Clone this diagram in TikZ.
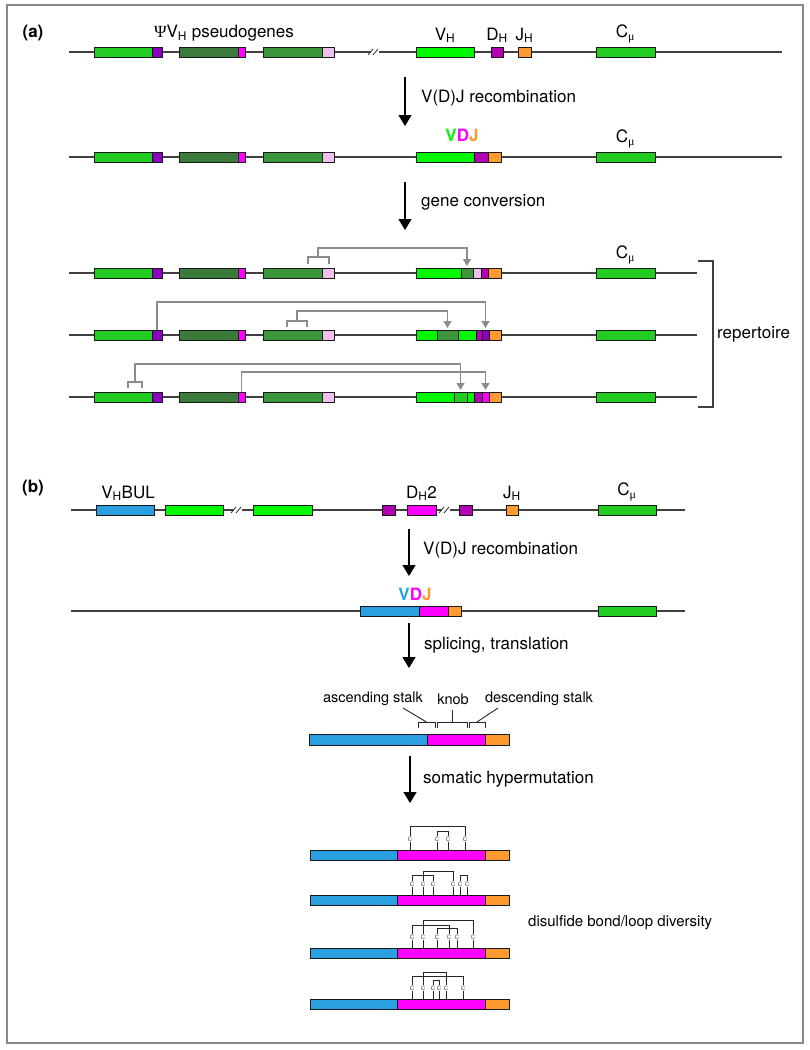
\documentclass[tikz,border=0pt]{standalone}
\usepackage{fontspec}
\setmainfont{TeX Gyre Heros}
\newfontfamily\symfont{Liberation Serif}
\usetikzlibrary{positioning,arrows.meta}
\definecolor{vlime}{HTML}{00F800}
\definecolor{psgreen}{HTML}{22CC22}
\definecolor{psdark}{HTML}{3A7A3A}
\definecolor{psmid}{HTML}{3C963C}
\definecolor{psviolet}{HTML}{8A00BE}
\definecolor{dpurple}{HTML}{B400B4}
\definecolor{dmagenta}{HTML}{FF00FF}
\definecolor{pspink}{HTML}{F0C0EC}
\definecolor{jorange}{HTML}{FF9A30}
\definecolor{vblue}{HTML}{2AA0E0}
\definecolor{dnagray}{HTML}{404040}
\definecolor{convgray}{HTML}{8C8C8C}
\definecolor{framegray}{HTML}{8A8A8A}

\begin{document}
\begin{tikzpicture}[x=1pt,y=-1pt,
	gene/.style={draw=black!90,line width=0.9pt,inner sep=0pt,outer sep=0pt,minimum height=10pt,anchor=west},
	vbox/.style={gene,fill=vlime},
	gbox/.style={gene,fill=psgreen},
	dbox/.style={gene,fill=psdark},
	mbox/.style={gene,fill=psmid},
	tbox/.style={gene,fill=psviolet},
	dhbox/.style={gene,fill=dpurple},
	mgbox/.style={gene,fill=dmagenta},
	pkbox/.style={gene,fill=pspink},
	jbox/.style={gene,fill=jorange},
	bbox/.style={gene,fill=vblue},
	dna/.style={draw=dnagray,line width=1.3pt},
	brk/.style={draw=dnagray,line width=0.9pt},
	lbl/.style={inner sep=0pt,font=\fontsize{17}{20}\selectfont},
	small/.style={inner sep=0pt,font=\fontsize{14.5}{17}\selectfont},
	stage/.style={line width=1.3pt,-{Triangle[width=13pt,length=11pt]}},
	conv/.style={draw=convgray,line width=1.4pt},
	convarr/.style={conv,-{Triangle[width=8pt,length=7pt]},shorten >=2pt},
	cys/.style={inner sep=0.3pt,font=\fontsize{6}{6}\selectfont,text=black!75},
	ss/.style={line width=0.9pt,draw=black!85}]

		\useasboundingbox (0,0) rectangle (809,1050);
		\draw[framegray,line width=1.6pt] (7,5) rectangle (803,1043);

		\node[lbl] (la) at (33,33) {\bfseries (a)};

		\draw[dna] (69,52) -- (782,52);
		\fill[white] (371,47) rectangle (379,57);
		\draw[brk] (368,55) -- (373,49) (373,55) -- (378,49);
		\node[gbox,minimum width=58pt] 					(a11) at (94,52) {};
		\node[tbox,minimum width=10pt,right=0pt of a11] 	(a12) {};
		\node[dbox,minimum width=59pt] 					(a13) at (179,52) {};
		\node[mgbox,minimum width=7pt,right=0pt of a13] 	(a14) {};
		\node[mbox,minimum width=59pt] 					(a15) at (263,52) {};
		\node[pkbox,minimum width=12pt,right=0pt of a15] 	(a16) {};
		\node[vbox,minimum width=58pt] 					(a17) at (416,52) {};
		\node[dhbox,minimum width=12pt] 					(a18) at (491,52) {};
		\node[jbox,minimum width=13pt] 					(a19) at (518,52) {};
		\node[gbox,minimum width=59pt] 					(a1c) at (596,52) {};

		\node[lbl] (psl) at (224,33) {{\symfont Ψ}V\textsubscript{H} pseudogenes};
		\node[lbl,above=4pt of a17] (l17) {V\textsubscript{H}};
		\node[lbl,above=4pt of a18] (l18) {D\textsubscript{H}};
		\node[lbl,above=4pt of a19] (l19) {J\textsubscript{H}};
		\node[lbl,above=4pt of a1c] (l1c) {C\textsubscript{\symfont μ}};

		\coordinate (s1a) at (405,77);
		\coordinate (s1b) at (405,126);
		\draw[stage] (s1a) -- (s1b);
		\node[lbl,anchor=west] (t1) at (421,98) {V(D)J recombination};

		\draw[dna] (69,157) -- (782,157);
		\node[gbox,minimum width=58pt] 					(a21) at (94,157) {};
		\node[tbox,minimum width=10pt,right=0pt of a21] 	(a22) {};
		\node[dbox,minimum width=59pt] 					(a23) at (179,157) {};
		\node[mgbox,minimum width=7pt,right=0pt of a23] 	(a24) {};
		\node[mbox,minimum width=59pt] 					(a25) at (263,157) {};
		\node[pkbox,minimum width=12pt,right=0pt of a25] 	(a26) {};
		\node[vbox,minimum width=58pt] 					(a27) at (416,157) {};
		\node[dhbox,minimum width=14pt,right=0pt of a27] 	(a28) {};
		\node[jbox,minimum width=13pt,right=0pt of a28] 	(a29) {};
		\node[gbox,minimum width=59pt] 					(a2c) at (596,157) {};

		\node[lbl,font=\fontsize{17}{20}\selectfont\bfseries] (vdja) at (462,135) {\textcolor{vlime}{V}\textcolor{dmagenta}{D}\textcolor{jorange}{J}};
		\node[lbl,above=4pt of a2c] (l2c) {C\textsubscript{\symfont μ}};

		\coordinate (s2a) at (405,182);
		\coordinate (s2b) at (405,230);
		\draw[stage] (s2a) -- (s2b);
		\node[lbl,anchor=west] (t2) at (421,202) {gene conversion};

		\draw[dna] (69,273) -- (697,273);
		\node[gbox,minimum width=58pt] 					(a31) at (94,273) {};
		\node[tbox,minimum width=10pt,right=0pt of a31] 	(a32) {};
		\node[dbox,minimum width=59pt] 					(a33) at (179,273) {};
		\node[mgbox,minimum width=7pt,right=0pt of a33] 	(a34) {};
		\node[mbox,minimum width=59pt] 					(a35) at (263,273) {};
		\node[pkbox,minimum width=12pt,right=0pt of a35] 	(a36) {};
		\node[vbox,minimum width=45pt] 					(a37) at (416,273) {};
		\node[mbox,minimum width=12pt,right=0pt of a37] 	(a3x) {};
		\node[pkbox,minimum width=8pt,right=0pt of a3x] 	(a3y) {};
		\node[dhbox,minimum width=7pt,right=0pt of a3y] 	(a38) {};
		\node[jbox,minimum width=13pt,right=0pt of a38] 	(a39) {};
		\node[gbox,minimum width=59pt] 					(a3c) at (596,273) {};
		\node[lbl,above=4pt of a3c] (l3c) {C\textsubscript{\symfont μ}};

		\coordinate (s3l) at (308,264);
		\coordinate (s3) at (318,257);
		\coordinate (s3r) at (329,264);
		\draw[conv] (s3l) |- (s3) -| (s3r);
		\draw[convarr] (s3) -- ++(0,-9) -| (a3x.north);

		\draw[dna] (69,335) -- (697,335);
		\node[gbox,minimum width=58pt] 					(a41) at (94,335) {};
		\node[tbox,minimum width=10pt,right=0pt of a41] 	(a42) {};
		\node[dbox,minimum width=59pt] 					(a43) at (179,335) {};
		\node[mgbox,minimum width=7pt,right=0pt of a43] 	(a44) {};
		\node[mbox,minimum width=59pt] 					(a45) at (263,335) {};
		\node[pkbox,minimum width=12pt,right=0pt of a45] 	(a46) {};
		\node[vbox,minimum width=21pt] 					(a47) at (416,335) {};
		\node[mbox,minimum width=21pt,right=0pt of a47] 	(a4x) {};
		\node[vbox,minimum width=18pt,right=0pt of a4x] 	(a4z) {};
		\node[dhbox,minimum width=6pt,right=0pt of a4z] 	(a48) {};
		\node[tbox,minimum width=7pt,right=0pt of a48] 	(a4y) {};
		\node[jbox,minimum width=12pt,right=0pt of a4y] 	(a49) {};
		\node[gbox,minimum width=59pt] 					(a4c) at (596,335) {};

		\draw[convarr] (a42.north) -- ++(0,-28) -| (a4y.north);
		\coordinate (s4l) at (287,327);
		\coordinate (s4) at (297,321);
		\coordinate (s4r) at (307,327);
		\draw[conv] (s4l) |- (s4) -| (s4r);
		\draw[convarr] (s4) -- ++(0,-10) -| (a4x.north);

		\draw[dna] (69,397) -- (697,397);
		\node[gbox,minimum width=58pt] 					(a51) at (94,397) {};
		\node[tbox,minimum width=10pt,right=0pt of a51] 	(a52) {};
		\node[dbox,minimum width=59pt] 					(a53) at (179,397) {};
		\node[mgbox,minimum width=7pt,right=0pt of a53] 	(a54) {};
		\node[mbox,minimum width=59pt] 					(a55) at (263,397) {};
		\node[pkbox,minimum width=12pt,right=0pt of a55] 	(a56) {};
		\node[vbox,minimum width=38pt] 					(a57) at (416,397) {};
		\node[gbox,minimum width=13pt,right=0pt of a57] 	(a5x) {};
		\node[vbox,minimum width=7pt,right=0pt of a5x] 	(a5z) {};
		\node[dhbox,minimum width=8pt,right=0pt of a5z] 	(a58) {};
		\node[mgbox,minimum width=7pt,right=0pt of a58] 	(a5y) {};
		\node[jbox,minimum width=12pt,right=0pt of a5y] 	(a59) {};
		\node[gbox,minimum width=59pt] 					(a5c) at (596,397) {};

		\coordinate (s5l) at (128,388);
		\coordinate (s5) at (135,382);
		\coordinate (s5r) at (142,388);
		\draw[conv] (s5l) |- (s5) -| (s5r);
		\draw[convarr] (s5) -- ++(0,-18) -| (a5x.north);
		\draw[convarr] (a54.north) -- ++(0,-20) -| (a5y.north);

		\draw[dna,line width=1.2pt] (698,261) -| (713,407) -- (698,407);
		\node[lbl,anchor=west] (rep) at (717,334) {repertoire};

		\node[lbl] (lb) at (33,488) {\bfseries (b)};

		\draw[dna] (71,510) -- (685,510);
		\fill[white] (234,505) rectangle (242,515);
		\draw[brk] (231,513) -- (236,507) (236,513) -- (241,507);
		\fill[white] (442,505) rectangle (450,515);
		\draw[brk] (439,513) -- (444,507) (444,513) -- (449,507);
		\node[bbox,minimum width=58pt] 	(b11) at (96,510) {};
		\node[vbox,minimum width=58pt] 	(b12) at (165,510) {};
		\node[vbox,minimum width=59pt] 	(b13) at (253,510) {};
		\node[dhbox,minimum width=13pt] 	(b14) at (382,510) {};
		\node[mgbox,minimum width=29pt] 	(b15) at (407,510) {};
		\node[dhbox,minimum width=13pt] 	(b16) at (459,510) {};
		\node[jbox,minimum width=12pt] 	(b17) at (506,510) {};
		\node[gbox,minimum width=58pt] 	(b1c) at (598,510) {};

		\node[lbl,above=4pt of b11,xshift=3pt] (l11) {V\textsubscript{H}BUL};
		\node[lbl,above=4pt of b15] (l15) {D\textsubscript{H}2};
		\node[lbl,above=4pt of b17] (l17b) {J\textsubscript{H}};
		\node[lbl,above=4pt of b1c] (l1cb) {C\textsubscript{\symfont μ}};

		\coordinate (s3a) at (409,529);
		\coordinate (s3b) at (409,576);
		\draw[stage] (s3a) -- (s3b);
		\node[lbl,anchor=west] (t3) at (423,550) {V(D)J recombination};

		\draw[dna] (71,611) -- (685,611);
		\node[bbox,minimum width=59pt] 					(b21) at (360,611) {};
		\node[mgbox,minimum width=29pt,right=0pt of b21] 	(b22) {};
		\node[jbox,minimum width=13pt,right=0pt of b22] 	(b23) {};
		\node[gbox,minimum width=58pt] 					(b2c) at (598,611) {};
		\node[lbl,font=\fontsize{17}{20}\selectfont\bfseries] (vdjb) at (415,594) {\textcolor{vblue}{V}\textcolor{dmagenta}{D}\textcolor{jorange}{J}};

		\coordinate (s4a) at (409,623);
		\coordinate (s4b) at (409,668);
		\draw[stage] (s4a) -- (s4b);
		\node[lbl,anchor=west] (t4) at (424,645) {splicing, translation};

		\node[bbox,minimum width=118pt,minimum height=11pt] 					(p1) at (309,740) {};
		\node[mgbox,minimum width=58pt,minimum height=11pt,right=0pt of p1] 	(p2) {};
		\node[jbox,minimum width=24pt,minimum height=11pt,right=0pt of p2] 	(p3) {};

		\node[small] (asc) at (373,699) {ascending stalk};
		\node[small] (knob) at (453,699) {knob};
		\node[small] (desc) at (539,699) {descending stalk};
		\coordinate (br1) at (426.5,722);
		\coordinate (br2) at (452,722);
		\coordinate (br3) at (477,722);
		\draw[ss] (418,728) |- (br1) -| (435,728);
		\draw[ss] (437,728) |- (br2) -| (467,728);
		\draw[ss] (469,728) |- (br3) -| (485,728);
		\coordinate (asct) at (403,708);
		\coordinate (knobt) at (452,710);
		\coordinate (desct) at (498,708);
		\draw[ss] (asct) -- (br1);
		\draw[ss] (knobt) -- (br2);
		\draw[ss] (desct) -- (br3);

		\coordinate (s5a) at (410,756);
		\coordinate (s5b) at (410,803);
		\draw[stage] (s5a) -- (s5b);
		\node[lbl,anchor=west] (t5) at (423,779) {somatic hypermutation};

		\node[bbox,minimum width=87pt] 					(q1v) at (310,855) {};
		\node[mgbox,minimum width=88pt,right=0pt of q1v] 	(q1d) {};
		\node[jbox,minimum width=24pt,right=0pt of q1d] 	(q1j) {};
		\node[cys] (c11) at (410,839) {C};
		\node[cys] (c12) at (437,839) {C};
		\node[cys] (c13) at (448,839) {C};
		\node[cys] (c14) at (465,839) {C};
		\draw[ss] (c11.south) -- (c11.south |- q1d.north) (c12.south) -- (c12.south |- q1d.north)
			(c13.south) -- (c13.south |- q1d.north) (c14.south) -- (c14.south |- q1d.north);
		\draw[ss] (c11.north) -- ++(0,-10) -| (c14.north);
		\draw[ss] (c12.north) -- ++(0,-5) -| (c13.north);

		\node[bbox,minimum width=87pt] 					(q2v) at (310,900) {};
		\node[mgbox,minimum width=88pt,right=0pt of q2v] 	(q2d) {};
		\node[jbox,minimum width=24pt,right=0pt of q2d] 	(q2j) {};
		\node[cys] (c21) at (412,884) {C};
		\node[cys] (c22) at (423,884) {C};
		\node[cys] (c23) at (433,884) {C};
		\node[cys] (c24) at (453,884) {C};
		\node[cys] (c25) at (460,884) {C};
		\node[cys] (c26) at (467,884) {C};
		\draw[ss] (c21.south) -- (c21.south |- q2d.north) (c22.south) -- (c22.south |- q2d.north)
			(c23.south) -- (c23.south |- q2d.north) (c24.south) -- (c24.south |- q2d.north)
			(c25.south) -- (c25.south |- q2d.north) (c26.south) -- (c26.south |- q2d.north);
		\draw[ss] (c22.north) -- ++(0,-10) -| (c24.north);
		\draw[ss] (c21.north) -- ++(0,-6) -| (c23.north);
		\draw[ss] (c25.north) -- ++(0,-6) -| (c26.north);

		\node[lbl,anchor=west,font=\fontsize{15}{18}\selectfont] (ssd) at (528,923) {disulfide bond/loop diversity};

		\node[bbox,minimum width=87pt] 					(q3v) at (310,953) {};
		\node[mgbox,minimum width=88pt,right=0pt of q3v] 	(q3d) {};
		\node[jbox,minimum width=24pt,right=0pt of q3d] 	(q3j) {};
		\node[cys] (c31) at (412,937) {C};
		\node[cys] (c32) at (423,937) {C};
		\node[cys] (c33) at (437,937) {C};
		\node[cys] (c34) at (449,937) {C};
		\node[cys] (c35) at (457,937) {C};
		\node[cys] (c36) at (473,937) {C};
		\draw[ss] (c31.south) -- (c31.south |- q3d.north) (c32.south) -- (c32.south |- q3d.north)
			(c33.south) -- (c33.south |- q3d.north) (c34.south) -- (c34.south |- q3d.north)
			(c35.south) -- (c35.south |- q3d.north) (c36.south) -- (c36.south |- q3d.north);
		\draw[ss] (c32.north) -- ++(0,-14) -| (c36.north);
		\draw[ss] (c31.north) -- ++(0,-9) -| (c34.north);
		\draw[ss] (c33.north) -- ++(0,-6) -| (c35.north);

		\node[bbox,minimum width=87pt] 					(q4v) at (310,1004) {};
		\node[mgbox,minimum width=88pt,right=0pt of q4v] 	(q4d) {};
		\node[jbox,minimum width=24pt,right=0pt of q4d] 	(q4j) {};
		\node[cys] (c41) at (412,988) {C};
		\node[cys] (c42) at (423,988) {C};
		\node[cys] (c43) at (433,988) {C};
		\node[cys] (c44) at (439,988) {C};
		\node[cys] (c45) at (446,988) {C};
		\node[cys] (c46) at (463,988) {C};
		\draw[ss] (c41.south) -- (c41.south |- q4d.north) (c42.south) -- (c42.south |- q4d.north)
			(c43.south) -- (c43.south |- q4d.north) (c44.south) -- (c44.south |- q4d.north)
			(c45.south) -- (c45.south |- q4d.north) (c46.south) -- (c46.south |- q4d.north);
		\draw[ss] (c42.north) -- ++(0,-13) -| (c45.north);
		\draw[ss] (c41.north) -- ++(0,-9) -| (c46.north);
		\draw[ss] (c43.north) -- ++(0,-5) -| (c44.north);
	\end{tikzpicture}
\end{document}
